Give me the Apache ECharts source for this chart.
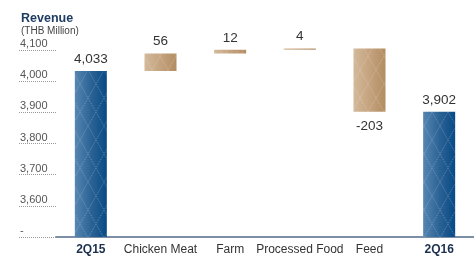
<!DOCTYPE html>
<html>
<head>
<meta charset="utf-8">
<script src="https://cdn.jsdelivr.net/npm/echarts@6/dist/echarts.min.js"></script>
<style>
  html, body { margin: 0; padding: 0; background: #fff; }
  #chart { width: 474px; height: 258px; }
</style>
</head>
<body>
<div id="chart"></div>
<script>
// data
var categories = ["2Q15", "Chicken Meat", "Farm", "Processed Food", "Feed", "2Q16"];
var startTotal = 4033;
var deltas = [56, 12, 4, -203];
var endTotal = 3902;
var yTicks = [3500, 3600, 3700, 3800, 3900, 4000, 4100];

// waterfall: transparent base + visible part
var baseData = ["-"];
var showData = [startTotal];
var labelData = [startTotal];
var running = startTotal;
deltas.forEach(function (d) {
  var next = running + d;
  baseData.push(Math.min(running, next));
  showData.push(Math.abs(d));
  labelData.push(d);
  running = next;
});
baseData.push("-");
showData.push(endTotal);
labelData.push(endTotal);

function fmt(v) {
  return String(v).replace(/\B(?=(\d{3})+(?!\d))/g, ",");
}

// argyle line pattern
var tile = document.createElement("canvas");
tile.width = 16;
tile.height = 28;
var ctx = tile.getContext("2d");
ctx.strokeStyle = "rgba(255,255,255,0.28)";
ctx.lineWidth = 1;
ctx.setLineDash([1, 1]);
ctx.beginPath();
ctx.moveTo(0, 0); ctx.lineTo(16, 28);
ctx.moveTo(16, 0); ctx.lineTo(0, 28);
ctx.stroke();

var blue = new echarts.graphic.LinearGradient(0, 0, 1, 0, [
  { offset: 0, color: "#5686b1" },
  { offset: 0.5, color: "#2c6396" },
  { offset: 1, color: "#084a85" }
]);
var tan = new echarts.graphic.LinearGradient(0, 0, 1, 0, [
  { offset: 0, color: "#d3b99b" },
  { offset: 0.5, color: "#c4a37f" },
  { offset: 1, color: "#b38d63" }
]);

var chart = echarts.init(document.getElementById("chart"));

var option = {
  animation: false,
  title: {
    left: 16,
    top: 7,
    text: "Revenue",
    subtext: "(THB Million)",
    itemGap: 1,
    textStyle: { fontFamily: "Liberation Sans", fontSize: 12.5, fontWeight: "bold", color: "#1f3d63" },
    subtextStyle: { fontFamily: "Liberation Sans", fontSize: 10, color: "#444" }
  },
  grid: { left: 56, width: 420, top: 19, bottom: 21 },
  xAxis: {
    type: "category",
    data: categories,
    axisLine: { lineStyle: { color: "#7d8fa5", width: 2 } },
    axisTick: { show: false },
    axisLabel: {
      margin: 7,
      interval: 0,
      formatter: function (v, i) {
        return (i === 0 || i === categories.length - 1) ? "{b|" + v + "}" : "{n|" + v + "}";
      },
      rich: {
        b: { fontFamily: "Liberation Sans", fontSize: 12, fontWeight: "bold", color: "#1b2f4e" },
        n: { fontFamily: "Liberation Sans", fontSize: 12, color: "#333" }
      }
    }
  },
  yAxis: {
    type: "value",
    min: 3500,
    max: 4200,
    interval: 100,
    axisLine: { show: false },
    splitLine: { show: false },
    axisTick: {
      show: true,
      length: 38,
      customValues: yTicks,
      lineStyle: { color: "#999", type: "dotted", width: 1 }
    },
    axisLabel: {
      customValues: yTicks,
      align: "left",
      verticalAlign: "bottom",
      margin: 36,
      lineHeight: 12,
      fontFamily: "Liberation Sans",
      fontSize: 11,
      color: "#555",
      formatter: function (v) {
        return v === 3500 ? "-" : fmt(v);
      }
    }
  },
  series: [
    {
      type: "bar",
      stack: "a",
      barWidth: 32,
      barGap: "-100%",
      silent: true,
      itemStyle: { color: "transparent" },
      data: baseData
    },
    {
      type: "bar",
      stack: "a",
      barWidth: 32,
      barGap: "-100%",
      data: showData.map(function (v, i) {
        var total = (i === 0 || i === showData.length - 1);
        var neg = labelData[i] < 0;
        return {
          value: v,
          itemStyle: { color: total ? blue : tan },
          label: { position: neg ? "bottom" : "top", distance: neg ? 7 : 5 }
        };
      }),
      label: {
        show: true,
        fontFamily: "Liberation Sans",
        fontSize: 13.5,
        color: "#333",
        formatter: function (p) {
          return fmt(labelData[p.dataIndex]);
        }
      }
    },
    {
      type: "bar",
      stack: "b",
      barWidth: 32,
      barGap: "-100%",
      silent: true,
      itemStyle: { color: "transparent" },
      data: baseData
    },
    {
      type: "bar",
      stack: "b",
      barWidth: 32,
      barGap: "-100%",
      silent: true,
      itemStyle: { color: { image: tile, repeat: "repeat" } },
      data: showData
    }
  ]
};

chart.setOption(option);
</script>
</body>
</html>
